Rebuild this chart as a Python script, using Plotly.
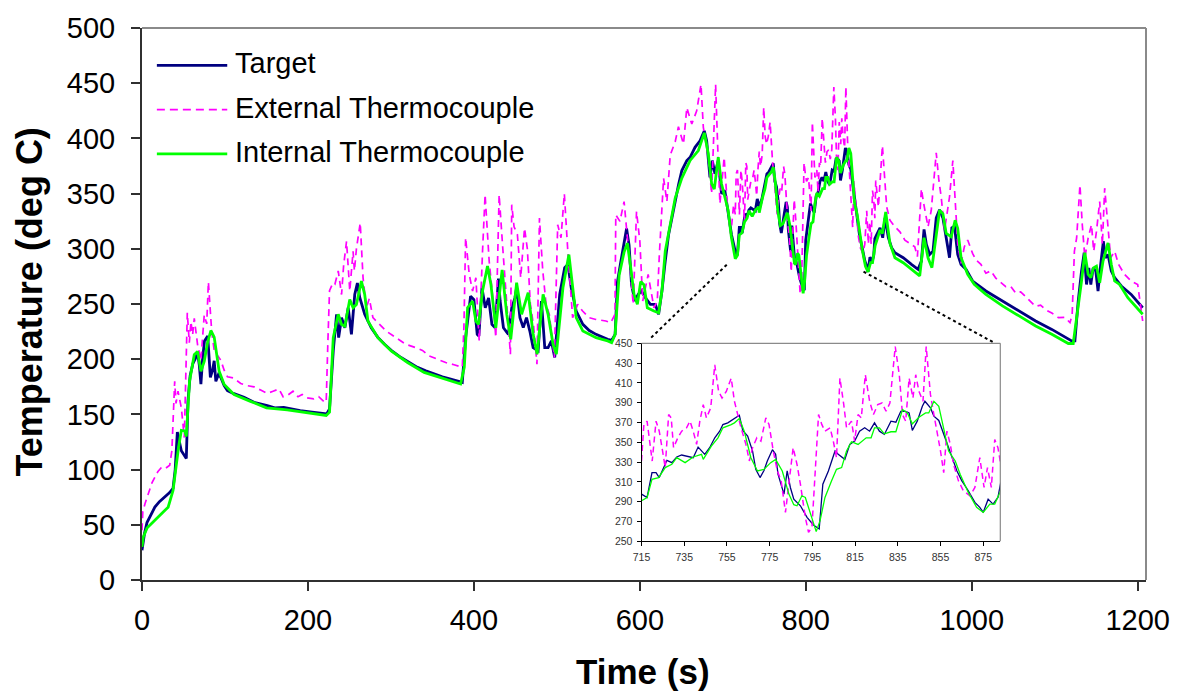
import plotly.graph_objects as go

# ---------------- data (time s, temperature deg C) ----------------
target_before = [
    (0, 27), (3, 42), (6, 52), (9.6, 57), (15.5, 66), (21, 71), (27.5, 75), (33, 79), (37.4, 83),
    (40, 100), (42.6, 134), (45, 125), (47.4, 117), (53.4, 110), (55.4, 162), (58, 185), (61.3, 196),
    (64, 200), (67, 206), (69, 195), (71, 177.5), (73, 200), (75.3, 216.6), (79.2, 221), (82.4, 183.5),
    (85, 190), (87, 198.5), (89, 180), (92, 186), (95, 183.5), (99, 176), (103, 171.5), (110, 169),
    (123, 165.4), (135, 161), (151, 158), (160, 156), (170.8, 156.4), (180, 155), (190.7, 153.4),
    (205, 152), (222.6, 150.4), (226, 155), (230.5, 207.6), (234.5, 240.7), (237, 219.5), (240.5, 237.6),
    (244.5, 228.5), (248.5, 246.6), (252.4, 222.5), (256.4, 258.6), (259.6, 269), (262.4, 256),
    (268.4, 240.7), (276.3, 228.5), (284, 220), (292.3, 213.5), (302, 207), (312.2, 201.5), (322, 197),
    (332, 192.6), (342, 189.5), (352, 186.6), (362, 184), (372, 182), (380, 180), (386, 179),
    (390, 219.5), (396, 257), (400, 254), (404, 222.5), (406, 221), (409.7, 264.7), (413.7, 246.6),
    (417.7, 255.6), (421.7, 231.5), (425.6, 228.5), (429.6, 273), (431.6, 252.7), (435.6, 228.5),
    (441.6, 222.5), (445.6, 246.6), (449.5, 255.6), (451.5, 264.7), (455.5, 237.6), (459.5, 228.6),
    (463.4, 237.6), (467.4, 225.5), (471.4, 210.5), (477.4, 207.6), (481.4, 252.7), (485.4, 210.5),
    (489.4, 210.5), (493.4, 216.6), (497.4, 201.6), (503.4, 258.7), (509.4, 282.8), (513.3, 285.8),
    (517.3, 264.7), (523.3, 243.6), (531.3, 231.6), (539, 226), (547.2, 222.5), (561.2, 218),
    (566, 217), (570.2, 222.5), (573, 270), (577, 288), (581, 306), (584, 318.4), (587, 303.4),
    (590, 267.3), (594, 252.7), (598, 258.7), (602, 261.7), (606.7, 255.6), (612.7, 249.7),
    (618.7, 249.7), (622.6, 240.6), (626.6, 261.7), (630.6, 288.8), (634.6, 312.8), (638.6, 327.8),
    (642.6, 343.9), (646.6, 358), (650.6, 370.9), (656.6, 379.9), (660.6, 382.9), (666.5, 391.9),
    (672.5, 397.9), (677.7, 406.9), (680.5, 397.9), (684.5, 364.8), (687.3, 379.9), (690.5, 367.9),
    (694.5, 379.9), (698.4, 349.9), (702.4, 352.9), (706.4, 331.9), (710.4, 312.9),
]
target_zoom = [
    (715, 297.6), (717.6, 294.2), (719.9, 319.3), (721.8, 319.3), (723.3, 314.3), (725.3, 324.4),
    (726.9, 331.7), (729.2, 329.4), (731.5, 335.1), (733.8, 337.1), (736.9, 335.8), (739.2, 334.4),
    (741.5, 345.1), (744.6, 337.8), (746.9, 344.5), (749.3, 354.5), (751.6, 361.2), (753.1, 367.9),
    (755.4, 369.6), (758.5, 373.6), (760.8, 377.3), (762.4, 361.9), (764.7, 356.2), (767, 341.1),
    (768.5, 322.7), (770.5, 314.3), (772.4, 321.7), (773.9, 331.1), (776.3, 342.5), (777.8, 337.8),
    (778.9, 317.7), (781.7, 297.6), (783.2, 321), (784.7, 304.3), (786.3, 292.5), (789.4, 285.8),
    (792.5, 274.1), (795.5, 266.4), (798.2, 262.4), (799.9, 307.6), (802.5, 321), (805.6, 341.1),
    (807.1, 337.8), (810.2, 332.7), (812.5, 347.8), (814.8, 351.2), (817.1, 361.2), (819.5, 364.6),
    (821.8, 361.2), (824.1, 369.6), (826.4, 361.2), (828.7, 357.9), (831.8, 371.3), (834.1, 370.3),
    (836.4, 381.3), (838.7, 381.3), (840.3, 379.6), (841.8, 361.9), (844.1, 371.3), (846.5, 386.3),
    (847.7, 391.4), (850.3, 384.7), (851.9, 376.3), (854.2, 372), (856.5, 357.9), (858, 349.5),
    (860.3, 334.4), (862.7, 321), (865, 311), (868, 301), (871.1, 289.2), (873.4, 284.2), (875, 279.1),
    (877.3, 292.5), (879.6, 287.5), (881.9, 294.2), (883.2, 309.3),
]
target_after = [
    (885.5, 312.9), (889.5, 319), (892.7, 310), (895.5, 328), (899.5, 310), (903.4, 301),
    (907.4, 296.4), (917.4, 291.9), (927.3, 285.9), (935.3, 281.4), (939.3, 288.9), (942.5, 317.5),
    (945.3, 303.9), (949.3, 294.9), (953.3, 297.9), (957.2, 328), (961.2, 335.4), (965.2, 328),
    (969.2, 310), (973.2, 291.9), (976, 319), (979.2, 320.4), (983.1, 294.9), (987.1, 285.9),
    (993.1, 281.4), (1001, 270.8), (1017, 261.8), (1037, 252.7), (1057, 243.7), (1077, 234.6),
    (1096.5, 227), (1110, 221), (1120.4, 216.6), (1124.3, 216.6), (1128.3, 252.7), (1132.3, 279.8),
    (1135.5, 296.4), (1138.3, 267.7), (1141.1, 282.7), (1143.5, 267.7), (1146.3, 282.7),
    (1149.5, 279.8), (1152.2, 261.7), (1155.4, 285.8), (1158.6, 306.8), (1161, 291.8), (1164.2, 294.8),
    (1168.2, 279.8), (1172.2, 273.8), (1180.2, 266.3), (1192.1, 258.7), (1206, 246.6),
]

external_before = [
    (0, 45), (1, 62), (3.6, 69), (8, 80), (12, 88), (15.5, 93), (19, 98), (23.5, 102), (28, 101),
    (33.4, 104), (36, 117), (39.4, 180), (41, 160), (43.4, 171), (47.4, 156), (51, 129), (54.6, 242),
    (57, 215), (59, 234), (61, 222), (63, 237), (67, 213), (71, 199), (75, 240), (78, 232), (80, 270),
    (82, 244), (84, 225), (87, 208), (91, 203), (95, 199), (99, 190), (103, 184), (110, 183),
    (119, 178), (127, 176), (135, 175), (143, 172), (151, 169), (158, 171), (165, 173), (170, 166),
    (175, 167), (182, 171), (188, 166), (193, 168), (199, 165), (207, 164), (213, 166), (220, 161),
    (222, 161), (224, 215), (226, 262), (230, 269), (232.5, 268), (236.5, 280), (240.5, 258.6),
    (243, 285), (246.5, 306.7), (250.4, 261.7), (254.4, 297.7), (256, 280), (258.4, 300), (263, 323.4),
    (266.4, 273.8), (270.4, 246.6), (274, 255), (278.3, 237.6), (286, 232), (294.3, 225.5),
    (305, 220), (318, 213.5), (330, 210.5), (338, 208), (346, 203), (356, 200), (366, 197),
    (376, 195), (386, 192.6), (388, 230), (390, 310), (394.4, 276.8), (398.4, 261.7), (402.4, 273.8),
    (406.4, 216.5), (410.4, 297.7), (413.5, 349), (418.4, 288.8), (422.4, 258.6), (426.4, 219.5),
    (430.4, 349), (434.5, 303.7), (438.5, 261.7), (442.4, 225.5), (444, 204.5), (445.6, 340),
    (448.4, 320), (452.4, 313), (456.4, 273.8), (461, 318.8), (464.4, 300), (468, 250), (472, 230),
    (476, 195.5), (479, 327.8), (483, 280), (487, 250), (491, 240), (494, 220), (497, 201.6),
    (501, 321.8), (505, 310), (509, 350), (513, 300), (519, 237.6), (525, 249.7), (531, 243.6),
    (538.9, 237.6), (547, 236), (559, 234.6), (565, 233), (570, 240.6), (571, 330.8), (576, 324.8),
    (581, 342.8), (585, 312.8), (589, 276.7), (592, 249.7), (596, 333.8), (600, 306.8), (603.5, 252.7),
    (610, 276.7), (617, 246.6), (621, 252.7), (623.5, 294.8), (628.6, 363.8), (632.6, 342.8),
    (636.6, 384.8), (642.6, 397), (646.5, 410.6), (650.6, 400), (652.6, 394.9), (656.6, 427.9),
    (662.6, 413), (668.5, 425), (673.7, 448.9), (676.5, 410), (682.5, 382.9), (686.5, 349.9),
    (691.3, 448.9), (693.7, 394.9), (696.5, 340.9), (701.6, 382.9), (705.6, 337.9), (709.6, 313),
    (713, 340),
]
external_zoom = [
    (715, 331.1), (716.1, 368), (717.6, 371.3), (719.2, 341), (720, 331), (721.8, 371.3),
    (723.3, 361.2), (724.6, 344.5), (726.1, 324.4), (727.7, 378), (728.9, 374.6), (730, 344.5),
    (732, 354.5), (733.8, 361.2), (736.1, 364.6), (737.7, 371.3), (739.2, 361.2), (740.8, 347.8),
    (742.3, 371.3), (743.9, 388), (745.4, 374.6), (747.4, 384.7), (749.3, 428.2), (751.1, 401.4),
    (752.7, 394.7), (754.7, 401.4), (757, 414.8), (758.5, 391.4), (760, 378), (761.6, 364.6),
    (763.9, 347.8), (765.5, 331.1), (767, 344.5), (769, 354.5), (770.9, 351.2), (773.2, 374.6),
    (774.7, 368), (776.7, 341.1), (778.6, 321), (780.4, 311), (782.4, 279.1), (784, 307.6),
    (786, 344.5), (787.8, 327.7), (789.4, 307.6), (791.7, 274.1), (793.2, 259), (794.8, 264.1),
    (796.3, 314.3), (797.9, 378), (799.4, 368), (800.9, 361.2), (803.3, 364.6), (804.8, 351.2),
    (806.3, 334.4), (807.9, 414.8), (809.7, 388), (811, 364.6), (813.3, 371.3), (814.8, 351.2),
    (816.4, 378), (817.9, 374.6), (819.8, 418.2), (821.8, 391.4), (823.6, 378), (825.6, 388),
    (827.6, 389.7), (829.5, 381.3), (831.3, 389.7), (833.8, 446.6), (835.7, 418.2), (837.2, 378),
    (838.7, 371.3), (840.3, 414.8), (842.1, 394.7), (843.4, 418.2), (844.9, 401.4), (846.8, 391.4),
    (848.3, 446.6), (850.3, 398.1), (851.9, 378), (853.4, 361.2), (855, 341.1), (856.5, 319.3),
    (858, 361.2), (859.6, 347.8), (861.1, 327.7), (863.4, 311), (865.7, 301), (868.8, 295.9),
    (871.1, 304.3), (873.4, 334.4), (875.4, 304.3), (877, 324.4), (878.8, 304.3), (880.4, 352.8),
    (881.9, 344.5), (883.2, 327.7),
]
external_after = [
    (884.3, 361.9), (887.5, 337.9), (892.3, 393.4), (895.5, 361.9), (897.5, 337.9), (901.4, 325.9),
    (907.4, 319.9), (913.4, 315.4), (919.4, 307.9), (925.3, 304.9), (931.3, 301.9), (934.5, 292.9),
    (937.3, 325.9), (939.3, 354.4), (942.1, 340.9), (947.3, 319.9), (951.2, 334.9), (955.2, 373.4),
    (957.2, 386.9), (960.4, 361.9), (963.2, 346.9), (967.2, 316.9), (970.3, 334.9), (973.2, 346.9),
    (977.2, 379.9), (979.2, 349.9), (983.1, 304.9), (987.1, 286.9), (991.1, 301.9), (995.1, 307.9),
    (1001, 295.9), (1005, 289.9), (1011, 286), (1017, 277.9), (1023, 280), (1029, 273.4), (1035, 270),
    (1041, 265.8), (1047, 266), (1053, 259.8), (1059, 261), (1065, 256.8), (1071, 252), (1077, 247.8),
    (1083, 249), (1089, 244.8), (1096.5, 241.8), (1104.5, 237.6), (1112, 238), (1118.4, 233.1),
    (1121, 240), (1123.7, 297.8), (1126.4, 309.8), (1130.4, 357.9), (1133.2, 321.8), (1136.3, 291.8),
    (1140.3, 309.8), (1144.3, 321.8), (1147, 297.8), (1150.3, 315.8), (1154.2, 342.8), (1157.4, 303.8),
    (1160.2, 354.9), (1163.4, 327.8), (1167.4, 291.8), (1172.2, 297.8), (1177, 285.8), (1184.1, 276.8),
    (1192.1, 270.8), (1200, 267.7), (1206, 234.6),
]

internal_before = [
    (0, 30), (1.6, 39), (6, 47), (15.5, 54), (24, 60), (31.5, 66), (37.4, 81), (41.4, 105), (44, 120),
    (47.4, 135.5), (51.4, 135), (53.4, 130), (57.3, 180), (63, 204), (67, 207), (71, 189), (75, 198),
    (79, 215), (83, 226), (87, 220), (93, 189), (99, 177), (111, 168), (130, 162), (150, 156),
    (175, 154), (200, 151), (222, 149), (226, 152), (230.5, 219.5), (236.5, 240.7), (240.5, 231.5),
    (244.5, 230), (250.4, 254), (254.4, 246.6), (258.4, 249.6), (264.4, 270.7), (268.4, 258.6),
    (272.3, 234.5), (284.3, 219.5), (300.3, 207.5), (320, 197), (340, 188), (364, 182), (384, 177.5),
    (388.4, 192.6), (392.4, 246.6), (398.4, 252.6), (402.4, 234.5), (405.6, 231.5), (410.4, 261.7),
    (416.4, 284.3), (420.5, 267.7), (426.4, 228.5), (430.5, 255), (434, 281), (439.6, 240.6),
    (444.4, 218), (451.5, 269.3), (457.5, 240.6), (465.4, 260.2), (471.4, 222.5), (476.2, 204.5),
    (483.4, 258.7), (489.4, 240.6), (495.4, 213.5), (499.4, 204.5), (507.3, 264.7), (514.5, 294.8),
    (519.3, 264.7), (523.3, 237.6), (531.3, 225.5), (547.2, 219.5), (561.2, 216.6), (566, 215),
    (570.2, 222.5), (575, 276), (581, 297), (585, 305), (589, 282.8), (593, 258.7), (597, 249.7),
    (601, 270.3), (605, 267.3), (609, 246.6), (617, 243.6), (622.6, 242), (626.6, 261.7),
    (630.6, 297.8), (636.6, 321.8), (642.6, 346), (650.6, 364), (660.6, 380), (670.5, 389),
    (677.7, 405), (682.5, 386), (686.5, 359), (689.7, 354), (694.5, 382.9), (698.4, 358.9),
    (702.4, 346.9), (706.4, 334.9), (710.4, 309.9),
]
internal_zoom = [
    (715, 290.9), (717.6, 294.2), (719.9, 312.6), (723, 314.3), (726.1, 324.4), (729.2, 327.7),
    (731.5, 334.4), (735.4, 329.4), (739.2, 335.1), (743.1, 337.8), (743.9, 332.7), (747.7, 346.1),
    (750.8, 354.5), (753.1, 364.6), (757, 367.9), (758.5, 369.6), (760.8, 374), (763.1, 361.2),
    (766.2, 334.4), (769.3, 321), (772.4, 322.7), (775.5, 329.4), (777.8, 332.7), (780.9, 321),
    (784, 297.6), (786.3, 286.9), (787.8, 285.8), (790.1, 295.9), (791.7, 294.2), (794, 279.1),
    (796.8, 259.7), (798.6, 270.8), (800.9, 294.2), (804, 311), (806.3, 322.7), (808.7, 324.4),
    (811, 341.1), (813.3, 350.5), (816.4, 347.8), (820.2, 354.5), (822.5, 354.5), (824.1, 364.6),
    (826.4, 364.6), (828.7, 358.5), (831.8, 360.6), (834.1, 360.6), (837.2, 383), (839.5, 379.6),
    (841.8, 368.6), (844.9, 375.3), (848, 379.6), (849.5, 379.6), (851.9, 391.4), (854.2, 386.3),
    (856.5, 364.6), (858.8, 341.1), (861.9, 331.1), (864.2, 317.7), (868, 299.3), (871.9, 284.2),
    (875, 279.1), (878.1, 287.5), (880.4, 287.5), (883.5, 302.6),
]
internal_after = [
    (885.5, 307.9), (889.5, 316.9), (892.3, 313.9), (896.3, 333.4), (901.4, 304.9), (907.4, 291.9),
    (917.4, 287.4), (927.3, 281.4), (937.3, 275.4), (942.5, 310), (947.3, 291.9), (952, 282.9),
    (956.4, 307.9), (961.2, 334.9), (965.2, 331.9), (969.2, 313.9), (975.2, 310.9), (980, 325.9),
    (983.1, 318.4), (987.1, 291.9), (995.1, 276.9), (1003, 267.9), (1017, 258.8), (1037, 248.3),
    (1057, 239.2), (1077, 230.1), (1096.5, 222.6), (1116.4, 214.2), (1122.3, 214.2), (1128.3, 246.7),
    (1132.3, 270.8), (1136.3, 296.4), (1140.3, 276.8), (1143.5, 273.8), (1146.7, 282.7),
    (1150.3, 284.3), (1154.2, 269.2), (1158.2, 288.8), (1164.2, 305.3), (1168.2, 285.8),
    (1172.2, 270.8), (1178.2, 267.7), (1188.1, 255.7), (1206, 240.7),
]

series_names = ["Target", "External Thermocouple", "Internal Thermocouple"]
series_colors = ["#000080", "#FF00FF", "#00FF00"]
main_ticks_x = [0, 200, 400, 600, 800, 1000, 1200]
main_ticks_y = [0, 50, 100, 150, 200, 250, 300, 350, 400, 450, 500]
zoom_ticks_x = [715, 735, 755, 775, 795, 815, 835, 855, 875]
zoom_ticks_y = [250, 270, 290, 310, 330, 350, 370, 390, 410, 430, 450]


def unzip(pairs):
    return [p[0] for p in pairs], [p[1] for p in pairs]


full_series = [
    target_before + target_zoom + target_after,
    external_before + external_zoom + external_after,
    internal_before + internal_zoom + internal_after,
]
zoom_series = [target_zoom, external_zoom, internal_zoom]

# ---------------- layout geometry (pixels) ----------------
W, H = 1182, 694
L, R, T, B = 142, 1155, 25, 580
pw, ph = R - L, B - T


def px(xp):
    return (xp - L) / pw


def py(yp):
    return (B - yp) / ph


FONT = "Liberation Sans, Arial, sans-serif"

fig = go.Figure()

main_styles = [dict(width=2.8), dict(width=1.7, dash="7px,5px"), dict(width=2.8)]
for name, col, pts, st in zip(series_names, series_colors, full_series, main_styles):
    t, v = unzip(pts)
    fig.add_trace(go.Scatter(x=t, y=v, mode="lines", name=name, showlegend=False,
                             line=dict(color=col, **st), xaxis="x", yaxis="y"))

zoom_styles = [dict(width=1.3), dict(width=1.5, dash="6px,4px"), dict(width=1.3)]
for name, col, pts, st in zip(series_names, series_colors, zoom_series, zoom_styles):
    t, v = unzip(pts)
    fig.add_trace(go.Scatter(x=t, y=v, mode="lines", name=name, showlegend=False,
                             line=dict(color=col, **st), xaxis="x2", yaxis="y2"))

# inset geometry
IL, IR, IT, IB = 646, 1008, 342, 541

axis_common = dict(showgrid=False, zeroline=False, showline=True, ticks="outside")
fig.update_layout(
    width=W, height=H, autosize=False,
    margin=dict(l=L, r=W - R, t=T, b=H - B, pad=0),
    paper_bgcolor="white", plot_bgcolor="white",
    font=dict(family=FONT, color="black"),
    xaxis=dict(range=[0, 1210], tickvals=main_ticks_x, linecolor="#303030", linewidth=2,
               tickcolor="#303030", tickwidth=2, ticklen=9, ticklabelstandoff=4,
               tickfont=dict(size=29, family=FONT, color="black"), domain=[0, 1], anchor="y",
               **axis_common),
    yaxis=dict(range=[0, 500], tickvals=main_ticks_y, linecolor="#303030", linewidth=2,
               tickcolor="#303030", tickwidth=2, ticklen=9, ticklabelstandoff=10,
               tickfont=dict(size=29, family=FONT, color="black"), domain=[0, 1], anchor="x",
               **axis_common),
    xaxis2=dict(range=[715, 883], tickvals=zoom_ticks_x, linecolor="black", linewidth=1,
                tickcolor="black", tickwidth=1, ticklen=4, ticklabelstandoff=2,
                tickfont=dict(size=10.5, family=FONT, color="#333333"),
                domain=[px(IL), px(IR)], anchor="y2", **axis_common),
    yaxis2=dict(range=[250, 450], tickvals=zoom_ticks_y, linecolor="black", linewidth=1,
                tickcolor="black", tickwidth=1, ticklen=4, ticklabelstandoff=2,
                tickfont=dict(size=10.5, family=FONT, color="#333333"),
                domain=[py(IB), py(IT)], anchor="x2", **axis_common),
)

shapes = [
    # main frame top / right (grey)
    dict(type="line", xref="paper", yref="paper", x0=0, x1=1, y0=1, y1=1,
         line=dict(color="#8a8a8a", width=2)),
    dict(type="line", xref="paper", yref="paper", x0=1, x1=1, y0=0, y1=1,
         line=dict(color="#8a8a8a", width=2)),
    # inset frame top / right (grey)
    dict(type="line", xref="paper", yref="paper", x0=px(IL), x1=px(IR), y0=py(IT), y1=py(IT),
         line=dict(color="#8a8a8a", width=1.2)),
    dict(type="line", xref="paper", yref="paper", x0=px(IR), x1=px(IR), y0=py(IB), y1=py(IT),
         line=dict(color="#8a8a8a", width=1.2)),
    # dotted leader lines
    dict(type="line", xref="paper", yref="paper", x0=px(732), y0=py(263), x1=px(655), y1=py(337),
         line=dict(color="black", width=2, dash="dot")),
    dict(type="line", xref="paper", yref="paper", x0=px(870), y0=py(270), x1=px(1001), y1=py(341),
         line=dict(color="black", width=2, dash="dot")),
]

# legend drawn inside the plot
legend_rows = [62.5, 107, 151.5]
legend_styles = [dict(width=2.8), dict(width=1.7, dash="8px,5px"), dict(width=2.8)]
annotations = []
for name, col, yrow, st in zip(series_names, series_colors, legend_rows, legend_styles):
    shapes.append(dict(type="line", xref="paper", yref="paper", x0=px(157), x1=px(228),
                       y0=py(yrow), y1=py(yrow), line=dict(color=col, **st)))
    annotations.append(dict(text=name, xref="paper", yref="paper", x=px(234), y=py(yrow - 2),
                            xanchor="left", yanchor="middle", showarrow=False,
                            font=dict(size=29, family=FONT, color="black")))

annotations.append(dict(text="<b>Temperature (deg C)</b>", xref="paper", yref="paper",
                        x=px(28), y=py(301), textangle=-90, xanchor="center", yanchor="middle",
                        showarrow=False, font=dict(size=36, family=FONT, color="black")))
annotations.append(dict(text="<b>Time (s)</b>", xref="paper", yref="paper",
                        x=px(647), y=py(672), xanchor="center", yanchor="middle",
                        showarrow=False, font=dict(size=35, family=FONT, color="black")))

fig.update_layout(shapes=shapes, annotations=annotations)

fig.write_html("out.html")
